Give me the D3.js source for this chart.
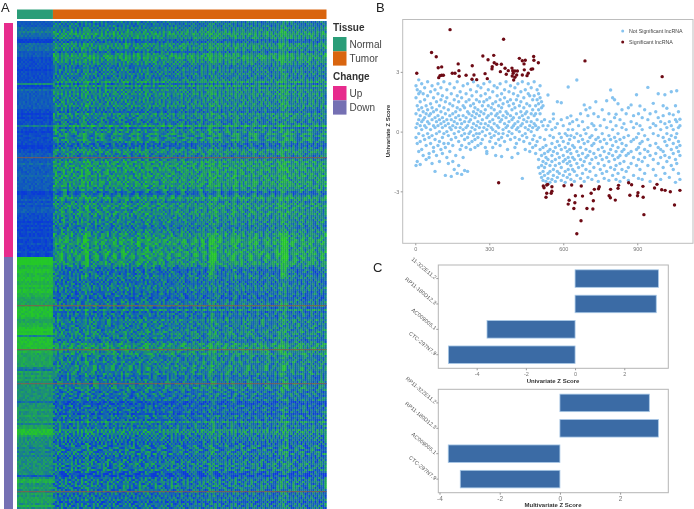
<!DOCTYPE html>
<html>
<head>
<meta charset="utf-8">
<script src="https://cdn.jsdelivr.net/npm/d3@7"></script>
<style>
  body { margin: 0; background: #fff; }
  svg { display: block; font-family: "Liberation Sans", Arial, sans-serif; filter: blur(0.3px); }
  .panel-letter { font-size: 13px; fill: #222; }
  .legend-title { font-size: 10px; font-weight: bold; fill: #333; }
  .legend-label { font-size: 10px; fill: #444; }
  .tick text { fill: #777; font-size: 5.5px; }
  .tick line { stroke: #999; }
  .axis-title { font-size: 6px; font-weight: bold; fill: #333; }
  .bar-label { font-size: 5.5px; fill: #555; }
</style>
</head>
<body>
<div id="chart"></div>
<script>
// Heatmap: expression level per row, 0 = blue, 9 = green
const rowNormal =
  "2223343320" + "0333322211" + "1111011111" + "1501322222" + "2222110101" + "1141101111" +
  "1100112222" + "2322222322" + "2222200112" + "1212221111" + "0101010010" + "01000100" + "9999" +
  "7788778877" + "8788776666" + "7888887667" + "7898948888" + "8867666666" + "6436565655" +
  "5555555535" + "5565565564" + "6688865555" + "5454545555" + "5555525775" + "565565666575";
const rowTumor =
  "3334456552" + "2555425665" + "5433434334" + "6263545444" + "4453325443" + "3372545445" +
  "4223554334" + "6565655655" + "6564522465" + "3555455444" + "4433445556" + "6655566666" + "66" +
  "5333344333" + "4443332344" + "5262433544" + "4445545346" + "6665644454" + "5554533444" +
  "4543433411" + "3233143263" + "4366544433" + "4444533445" + "4453214454" + "544433342444";
// Column level, read from the vertical streaks
const colLevels = "555555555" +
  "54545445" + "74544545" + "45544546" + "45454544" + "54454547" + "65454645" + "45544544" + "58745454" + "5445";
// Columns in the band just above the Up/Down break show stronger streaks
const streakBand = [106, 128];
// Rows that read brownish in the picture
const brownRows = [68, 142, 164, 181, 235];
// Where each row starts reading its grain line
const grainOffsets = [0, 31, 12, 58, 7, 44, 23, 69, 3, 50, 17, 38, 64, 9, 27, 73, 41, 14, 55, 5, 33, 61, 20, 47, 11, 70, 29, 52, 2, 36, 66];
// Cell to cell grain, one line per 4 rows
const grain = [
"45354546437261847362518473625184736251947382615273849162738495162738461527384",
"54463545372816493726158492637185249361728459163827459362817463952817364928173",
"35445634628371594826371659284736152947382615948372651849273618593748261937482",
"46534455183746295173846291738562947183652974183652947381562947386152974836152",
"53645344736215849372618495372861947263581947362851947263185947263851746293851",
"44553645261947385261847396152837461928375164928375162947385162948375261947362",
"35464534847362915847362951847263951746382951746382516293847516293847526193847",
"54355463392817465392716485392716485926371485926137485926174835926174836251748",
"45463544574628391574628139574628391746258391746285391746825391764825391764285",
"36544535628391475628394175628349175263849175263849172638491725638491725364917",
"44635464193847265193847256193748256193748265917348265917348625917384625197384",
"53546345746253918746259318746259381746295381746925381746925837146925837164925",
"46355436285917364285917634285916734285961734825961734825967134825967138425967",
"34465453517394826517398426517398246153798246153792846153792486153792486517392",
"55436344962483715962438175962431875964231875964213875964213785964213758964217",
"43564554371629584371692584316925843169258431692584361925843619258436192584361",
"54436345846173925846137925841637925846137295846173295846137295841637295846137",
"35545436293758146293785146293781546293781456293781456923781456923871456923871",
"46354545658241937658249137658214937682514937682519437682519473682519743682519",
"54463534174936285174963285179463285719463285719463825719463825791463825794163",
"35546453536827194536872194536817294538617294538671294538671924538671924583671",
"43655344961475238961742538961742358916742358916472358916472538916475238914752",
"55344565248396175248391675243891675248391675284391675284936175284936715284961",
"46453543725164893725618493725618439725681439752681439752684139752684319752864",
"34564545183972645183927645183972465183927465189327465819327465819327645819736",
"55433654647281395647218395642718395642781395642783195642738195642738915647329",
"44565343391564827391546827395146827395164827391564287391564287395164287391562",
"53446545826719354826791354862791354826971354862971354862973154862973514862975",
"45354456572938461572983461579283461579238461572938416579238416572983416579284",
"36463544285146793285416793285164793258164793258146793258416973258416793254169",
"54554635749381526749318526793418526749318256749381256749381526794381526749382",
"43465445163729584163792584163729854163729584617329584617392584617329854163928",
"45536344638195274638915274683915274638195724638195724683915724683917524683917",
"54344655492756183492765183497261583492761853492716853947261853947261583492716",
"35465444275483961275483691275438691275483961724583961724538961724583691274583",
"46553435817264539817264593817624593817264953871264953871624953871264593871265",
"53446544394618275394681275396481275396418725394618725396184725396148725391648",
"44355645561829743561892743561829473561892473561829473568192473561892743561984",
"45464353738591264738519264735891264738591624738591264783591264735891624738951",
"36545444926173485926137485921637485926173845926137845926137485921673485926137",
"54436355149582736149528736145982736149582376149582763149582736145928736145982",
"45355464683917254683971254689317254683971524683917524689371524683971254683917",
"34564345275496318275469318274596318275496138275469138274596138275946138275469",
"55443654817362549817326549813726549817362459813726459817326459813762459817362",
"43564544392785164392758164397285164392785614392758614397285614392758164392785",
"54355465546219873546291873546219783546291783542619783546291783542619873546219",
"46445354783145962783154962783514962783145692783154692783514692783145962783154",
"35564543165974328165947328169547328165974238165947238169574238165974328165947",
"44453655427386195427368195423768195427386915427368915423768915427386195427368",
"53564344819253647819235647812953647819253467819235467812953467819253647819235",
"45355546953617284953671284956317284953617824953671824956371824953617284953617",
"36464455928172639091827364902817360918273690182736092817369018273602918736019",
"54553446190837269180937260198037261908372691803726190837260918372609183726091",
"43465454829017368920173689201736892017638920176389021763890217638921076389210",
"46354365091827360918273609182736091827360918273609812736098127360981273609812",
"35446544738190263781902637819026738190267381902673819026738910267389102673891",
"54563453201938472019384720193874201938742019387420193874021938740219387402193",
"44355645183920471839204718392074183920741839207418392074813920748139207481392",
"53446354294817302948173029481730294817032948170329481703294871032948710329487",
"45564453617283946172839461728394617283964172839641728396147283961472839614728",
"36455344382910473829104738291047382910743829107438291074382910743829017438290"
];

// Left and top annotation groups
const tissueNames = ["Normal", "Tumor"];
const changeNames = ["Up", "Down"];
const tissueColumns = [18, 137];
const changeRows = [118, 126];

const sigPoints = [
  [141,5.12],[358,4.64],[66,3.97],[85,3.76],[6,2.93],[93,3.21],[107,3.25],[174,3.40],[177,3.06],[231,3.31],
  [274,3.80],[318,3.83],[295,3.61],[320,3.46],[330,3.38],[349,3.38],[312,3.26],[311,3.15],[345,3.01],[364,3.18],
  [377,3.06],[392,3.19],[395,3.06],[404,3.04],[414,3.04],[397,2.93],[369,2.88],[393,2.79],[404,2.73],[399,2.59],
  [411,2.84],[422,3.68],[434,3.56],[446,3.58],[441,3.40],[442,3.10],[434,2.84],[453,2.81],[458,2.93],[470,3.13],
  [476,3.15],[480,3.77],[481,3.58],[499,3.46],[150,2.93],[161,2.93],[107,2.83],[114,2.83],[100,2.81],[95,2.71],
  [178,2.78],[206,2.83],[238,2.84],[230,2.63],[249,2.61],[283,2.91],[292,2.66],[688,3.55],[1001,2.76],
  [338,-2.57],[519,-2.73],[522,-2.82],[533,-2.68],[537,-2.65],[554,-2.77],[554,-2.99],[551,-3.10],[533,-3.10],[530,-3.30],
  [603,-2.72],[634,-2.68],[673,-2.73],[649,-3.22],[678,-3.24],[624,-3.45],[620,-3.64],[647,-3.57],[643,-3.86],[696,-3.86],
  [720,-3.89],[722,-3.47],[713,-3.10],[726,-2.90],[743,-2.87],[746,-2.77],[672,-4.48],[655,-5.13],[792,-2.90],[786,-3.22],
  [791,-3.32],[811,-3.44],[822,-2.85],[824,-2.70],[865,-2.57],[877,-2.67],[870,-3.20],[901,-3.22],[903,-3.07],[923,-2.75],
  [924,-3.30],[927,-4.17],[970,-2.83],[980,-2.65],[999,-2.92],[1013,-2.95],[1034,-3.02],[1051,-3.69],[1073,-2.95]
];
// Not significant lncRNA, grouped as [x, z, z, ...]
const otherColumns = [
  [3,2.3,1.7,.9,.2,-.3,-1.7],[8,2.1,1.3,.4,-.6,-1.5],[14,2.6,1.9,1.1,.6,-.1,-1],[20,2,1.5,.8,.3,-.5,-1.65],[26,2.4,1.2,.5,.1,-.9],
  [32,1.9,1,.6,-.2,-1.2],[38,2.2,1.6,.7,.3,-.4],[44,1.3,.9,.2,-.7,-1.4],[50,2.5,1.8,1.1,.5,-.1],[56,.8,.4,-.3,-1.1,-1.3],
  [62,2,1.4,.9,.1,-.6],[68,2.3,1.2,.6,-.2,-1.6],[74,1.7,1,.3,-.8,-1],[80,2.1,.7,.2,-.4,-2],[86,1.5,1.1,.5,-.1,-1.2],
  [92,2.4,1.9,.8,.3,-.7],[98,1.3,.6,0,-.5,-1.5],[104,2.2,1.6,1,.4,-.9],[110,1.8,.7,.2,-.3,-1.1],[116,2.5,1.2,.5,-.1,-.6],
  [122,1.5,.9,.3,-.8,-2.2],[128,2.1,1.7,.6,0,-1.3],[134,1.1,.4,-.2,-.6,-1.6],[140,2.4,1.4,.8,.2,-1],[146,1.9,.6,.1,-.4,-2.25],
  [152,1.3,.9,.3,-.7,-1.5],[158,2.2,1.6,.5,-.1,-1.9],[164,1,.7,.2,-.3,-1.2],[170,2.5,1.8,1.2,.4,-2.1],[176,1.5,.8,0,-.5,-1.7],
  [182,2,1.1,.6,.2,-.9],[188,1.7,.4,-.2,-.7,-2.15],[194,2.3,1.3,.8,.1,-1.3],[200,1.2,.5,-.1,-.4,-1.95],[206,1.9,1.5,.7,.2,-.8],
  [212,2.4,1,.3,-.3,-2],[218,1.6,.9,.5,-.1,-.6],[224,2.1,1.3,.6,0,-.9],[230,1.8,.8,.2,-.5],[236,2.5,1.4,1,.4,-.2],
  [242,1.2,.7,.1,-.4,-.8],[248,2,1.6,.9,.3,-.1],[254,2.3,1.1,.5,-.3,-.7],[260,1.5,.8,.2,-.1],[266,2.2,1.8,1,.4,-.6],
  [272,1.3,.6,0,-.4],[278,2.4,1.5,.9,.2],[284,1.9,1.1,.4,-.2,-.8],[290,1.6,.7,.1,-1,-1.1],[296,2.1,1.3,.8,.3],
  [302,2.5,1.7,.5,-.1,-.5],[308,1.2,.9,.2,-.3],[314,2,1.4,.6,.1,-.8],[320,2.3,1.1,.4,-.2],[326,1.5,.8,0,-.6,-1.2],
  [332,2.2,1.8,.9,.3],[338,1.3,.7,.2,-.1,-.4],[344,2.4,1.6,1,.5,-.7],[350,1.9,1.2,.6,-.3,-1.25],[356,1.4,.8,.1,-.1],
  [362,2.1,1.7,.4,-.5],[368,2.5,1,.7,.2],[374,1.5,.9,.3,-.2,-.9],[380,2,1.3,.5,0],[386,2.3,1.6,.8,-.4],
  [392,1.1,.6,.2,-.1,-1.3],[398,1.9,1.4,.7,.3],[404,2.2,1.2,.4,-.3,-.8],[410,1.6,.9,.1,-.6],[416,2.4,1.8,.5,.2,-1.1],
  [422,1.3,.7,0,-.4],[428,2,1.5,1,.3],[434,2.5,.8,.4,-.2,-2.35],[440,1.7,1.2,.6,-.5],[446,2.1,.9,.2,-.1,-.9],
  [452,1.4,1,.5,-.3],[458,2.4,1.9,.7,.1],[464,1.8,1.3,.3,-.6,-1],[470,2.2,.9,.5,0],[476,1.6,1.1,.2,-.4,-.8],
  [482,2.5,1.8,.8,.4,-.2],[488,1.3,.9,.3,-.7,-1.1],[494,2.1,1.6,.6,.1,-.5],[500,1.9,1.4,1.1,.2,-1.4,-1.8],[506,2.3,1.7,.9,-.3,-.9,-2.1],
  [512,1.5,1.2,.5,-1.2,-1.7,-2.3],[518,1.3,.3,-.8,-1.5,-2,-2.45],[524,.6,-.4,-1.1,-1.8,-2.2],[530,.1,-.7,-1.3,-1.6,-2.5],[538,1.84,.3,-1,-1.4,-2.1,-2.35],
  [546,.5,-.2,-.9,-1.7,-2,-2.55],[554,.1,-.6,-1.2,-1.5,-2.4],[560,.89,.64,-.3,-1,-1.9,-2.2],[568,.2,-.8,-1.4,-1.7,-2.5],[576,1.5,.4,-.5,-1.1,-2,-2.3],
  [584,-.1,-.7,-1.3,-1.6,-2.1],[592,1.45,.6,-.3,-.9,-1.8,-2.45],[600,.3,-.5,-1.2,-1.5,-2.2],[608,-.1,-.8,-1.4,-2,-2.55],[616,.7,-.2,-1,-1.6,-2.3],
  [620,2.24,.1,-.6,-1.3,-1.9],[626,.4,-.4,-.9,-1.5,-2.15],[631,.79,-.2,-1.1,-1.7,-2.4],[638,.5,.1,-.7,-1.3,-1.9],[645,-.3,-.8,-1.4,-2,-2.5],
  [655,2.59,.6,-.1,-1,-1.6,-2.2],[662,.3,-.5,-1.2,-1.8],[670,.9,-.2,-.8,-1.4,-2.35],[678,.5,-.4,-1.1,-1.7,-2.1],[685,1.34,.1,-.6,-1.5,-2.5],
  [692,1.1,-.1,-.9,-1.3,-1.9],[700,.8,.2,-.5,-1.2,-2.3],[708,1.2,-.3,-1,-1.6,-2],[716,.4,-.2,-.7,-1.4,-2.4],[724,.9,.3,-.6,-1.1,-1.8],
  [732,1.5,.1,-.4,-1.3,-2.2],[742,.75,-.3,-.9,-1.6,-2.5],[750,.3,-.5,-1.2,-1.9],[758,1.1,-.1,-.8,-1.4,-2.1],[766,.6,-.4,-1,-1.7,-2.35],
  [776,1.55,.2,-.6,-1.3,-2],[785,.9,-.2,-1.1,-1.5,-2.45],[792,2.09,.5,-.4,-.9,-1.8],[800,1.7,.1,-.7,-1.2,-2.2],[808,1.6,.7,-.3,-1.4,-1.9],
  [814,.87,.3,-.5,-1,-1.7,-2.4],[822,1.4,-.1,-.8,-1.3,-2.1],[830,.6,-.4,-1.2,-1.6,-2.5],[838,1.1,.2,-.6,-1,-1.9],[846,.4,-.3,-.9,-1.5,-2.3],
  [855,.9,.1,-.7,-1.2,-2],[864,1.2,-.2,-1.1,-1.8,-2.45],[875,1.34,.5,-.5,-1,-1.6],[885,.8,.2,-.4,-1.3,-2.2],[897,1.85,.4,-.3,-.9,-1.7],
  [905,.9,-.1,-.8,-1.4,-2.35],[911,1.29,.3,-.6,-1.1,-1.9],[920,.7,.1,-.5,-1.5,-2.4],[930,1.1,-.2,-.9,-1.3,-2.1],[943,2.22,.6,-.4,-1,-1.7],
  [952,.9,.2,-.7,-1.2,-2.5],[965,1.42,.4,-.1,-1.4,-1.9],[975,1,.3,-.6,-1.1,-2.2],[985,1.9,.7,-.2,-.8,-1.6],[995,.5,.1,-.9,-1.3,-2.4],
  [1005,1.3,.8,-.3,-1,-1.8],[1012,1.85,.4,-.5,-1.2,-2.1],[1020,1.17,.2,-.1,-.7,-1.5],[1030,.9,.5,-.4,-1.3,-2.3],[1038,2,.3,-.2,-.9,-1.7],
  [1046,.84,.1,-.6,-1.1,-1.9],[1055,1.3,.6,-.3,-1.4,-2.55],[1060,2.05,.5,-.1,-.8,-1.6],[1067,1,.2,-.5,-1,-2.1],[1073,.62,.3,-.7,-1.2,-2.4]
];

// Bars
const univariateGenes = ["11-322E11.2", "RP11-180D12.3", "AC009005.1", "CTC-297N7.9"];
const univariateZ = [3.39, 3.3, -3.58, -5.15];
const multivariateGenes = ["RP11-322E11.2", "RP11-180D12.3", "AC009005.1", "CTC-297N7.9"];
const multivariateZ = [2.97, 3.27, -3.71, -3.31];

const svg = d3.select("#chart").append("svg").attr("width", 694).attr("height", 509);

const tissueColor = d3.scaleOrdinal().domain(tissueNames).range(["#2a9d78", "#d9650f"]);
const changeColor = d3.scaleOrdinal().domain(changeNames).range(["#e72b8d", "#7570b3"]);

// Panel A
const heatX = d3.scaleLinear().domain([0, 155]).range([17, 326.5]);
const heatY = d3.scaleLinear().domain([0, 244]).range([21, 509]);
const heatColor = d3.scaleLinear().domain([0, .35, .65, 1])
  .range(["#0a3ad8", "#1468b0", "#1f9c64", "#24c828"]).clamp(true);

const cells = [];
d3.range(244).forEach(r => {
  const line = grain[Math.floor(r / 4)];
  const offset = grainOffsets[r % grainOffsets.length];
  const inBand = r >= streakBand[0] && r < streakBand[1];
  d3.range(155).forEach(c => {
    const normal = c < tissueColumns[0];
    const level = normal ? +rowNormal[r]
      : 4.5 + (+rowTumor[r] - 4.5) * .7 - (r < changeRows[0] ? 0 : .5);
    const streak = (+colLevels[Math.min(Math.floor(c / 2), 76)] - 4.5) * (inBand ? 1 : .4);
    const noise = (+line[(c + offset) % 77] - 4.5) * (normal ? .25 : .7);
    cells.push({r, c, v: level + streak + noise});
  });
});

const heat = svg.append("g").style("filter", "blur(0.5px)");
heat.selectAll("rect").data(cells).join("rect")
  .attr("x", d => heatX(d.c))
  .attr("y", d => heatY(d.r))
  .attr("width", heatX(1) - heatX(0) + .2)
  .attr("height", heatY(1) - heatY(0) + .2)
  .attr("fill", d => heatColor(d.v / 9));
// Thin brownish rows run across both tissue groups
heat.append("g").selectAll("rect").data(brownRows).join("rect")
  .attr("x", heatX(0))
  .attr("y", d => heatY(d))
  .attr("width", heatX(155) - heatX(0))
  .attr("height", 1.2)
  .attr("fill", "#8a5a4a")
  .attr("opacity", .75);

let colStart = 0;
tissueNames.forEach((name, i) => {
  svg.append("rect")
    .attr("x", heatX(colStart)).attr("y", 9.5)
    .attr("width", heatX(colStart + tissueColumns[i]) - heatX(colStart)).attr("height", 9.5)
    .attr("fill", tissueColor(name));
  colStart += tissueColumns[i];
});
let rowStart = 0;
changeNames.forEach((name, i) => {
  svg.append("rect")
    .attr("x", 4).attr("y", heatY(rowStart) + (i ? 0 : 2))
    .attr("width", 9).attr("height", heatY(rowStart + changeRows[i]) - heatY(rowStart) - (i ? 0 : 2))
    .attr("fill", changeColor(name));
  rowStart += changeRows[i];
});

function legend(title, names, color, y) {
  const g = svg.append("g").attr("transform", `translate(333,${y})`);
  g.append("text").attr("class", "legend-title").attr("y", 0).text(title);
  names.forEach((n, i) => {
    g.append("rect").attr("y", 6 + i * 14.3).attr("width", 13.5).attr("height", 14.3).attr("fill", color(n));
    g.append("text").attr("class", "legend-label").attr("x", 16.5).attr("y", 17 + i * 14.3).text(n);
  });
}
legend("Tissue", tissueNames, tissueColor, 31);
legend("Change", changeNames, changeColor, 80);

// Panel B
const xScale = d3.scaleLinear().domain([-51, 1126]).range([402.7, 693]);
const zScale = d3.scaleLinear().domain([-5.61, 5.63]).range([243.3, 19.5]);
const otherPoints = otherColumns.flatMap(([x, ...zs]) => zs.map(z => [x, z]));

svg.append("rect").attr("x", 402.7).attr("y", 19.5).attr("width", 290.3).attr("height", 223.8)
  .attr("fill", "none").attr("stroke", "#bdbdbd");

svg.append("g").selectAll("circle").data(otherPoints).join("circle")
  .attr("cx", d => xScale(d[0])).attr("cy", d => zScale(d[1])).attr("r", 1.7).attr("fill", "#86c3ef");
svg.append("g").selectAll("circle").data(sigPoints).join("circle")
  .attr("cx", d => xScale(d[0])).attr("cy", d => zScale(d[1])).attr("r", 1.7).attr("fill", "#6d0a14");

function styleAxis(g) {
  g.select(".domain").remove();
  g.selectAll(".tick line").attr("stroke", "#999");
}
svg.append("g").attr("transform", "translate(0,243.3)")
  .call(d3.axisBottom(xScale).tickValues([0, 300, 600, 900]).tickSize(2).tickPadding(1.5).tickFormat(String))
  .call(styleAxis);
svg.append("g").attr("transform", "translate(402.7,0)")
  .call(d3.axisLeft(zScale).tickValues([-3, 0, 3]).tickSize(2).tickPadding(1.5).tickFormat(String))
  .call(styleAxis);
svg.append("text").attr("class", "axis-title").attr("text-anchor", "middle")
  .attr("transform", "translate(390,131) rotate(-90)").text("Univariate Z Score");

[["Not Significant lncRNA", "#86c3ef", 31], ["Significant lncRNA", "#6d0a14", 42]].forEach(([label, col, y]) => {
  svg.append("circle").attr("cx", 622.7).attr("cy", y).attr("r", 1.5).attr("fill", col);
  svg.append("text").attr("x", 629).attr("y", y + 2).attr("font-size", 5.3).attr("fill", "#444").text(label);
});

// Panel C
function barPanel(genes, values, top, bottom, domain, title, titleY, tickFont) {
  const x = d3.scaleLinear().domain(domain).range([438.3, 668.3]);
  const y = d3.scaleBand().domain(genes).range([top, bottom]).paddingInner(.31).paddingOuter(.19);

  svg.append("rect").attr("x", 438.3).attr("y", top).attr("width", 230).attr("height", bottom - top)
    .attr("fill", "none").attr("stroke", "#b5b5b5");

  svg.append("g").selectAll("rect").data(genes).join("rect")
    .attr("x", (d, i) => x(Math.min(0, values[i])))
    .attr("y", d => y(d))
    .attr("width", (d, i) => Math.abs(x(values[i]) - x(0)))
    .attr("height", y.bandwidth())
    .attr("fill", "#3b6ba5")
    .attr("stroke", "#a8c8e6").attr("stroke-width", .8);

  svg.append("g").attr("transform", `translate(0,${bottom})`)
    .call(d3.axisBottom(x).tickValues([-4, -2, 0, 2]).tickSize(2).tickPadding(1.5).tickFormat(String))
    .call(styleAxis)
    .selectAll("text").style("font-size", tickFont);
  svg.append("g").attr("transform", "translate(438.3,0)")
    .call(d3.axisLeft(y).tickSize(2).tickFormat(() => ""))
    .call(styleAxis);

  svg.append("g").selectAll("text").data(genes).join("text")
    .attr("class", "bar-label")
    .attr("text-anchor", "end")
    .attr("transform", d => `translate(434.5,${y(d) + y.bandwidth() / 2 + 1}) rotate(40)`)
    .text(d => d);

  svg.append("text").attr("class", "axis-title").attr("text-anchor", "middle")
    .attr("x", 553).attr("y", titleY).text(title);
}
barPanel(univariateGenes, univariateZ, 265, 368.3, [-5.56, 3.79], "Univariate Z Score", 383, "5.5px");
barPanel(multivariateGenes, multivariateZ, 389.3, 492.7, [-4.04, 3.6], "Multivariate Z Score", 507, "6.5px");

// Panel letters
[["A", 1, 12], ["B", 376, 12], ["C", 373, 272]].forEach(([t, x, y]) => {
  svg.append("text").attr("class", "panel-letter").attr("x", x).attr("y", y).text(t);
});
</script>
</body>
</html>
